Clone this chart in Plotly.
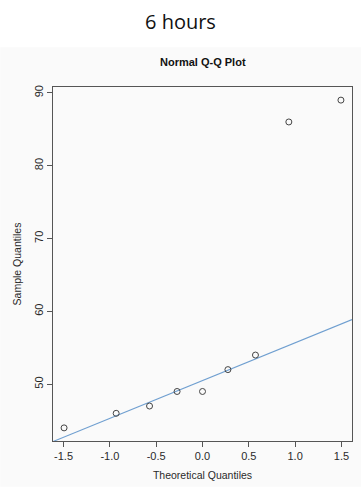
import numpy as np
import plotly.graph_objects as go
from statistics import NormalDist

# Sorted sample values (6 hours)
sample = [44, 46, 47, 49, 49, 52, 54, 86, 89]
x_ticks = [-1.5, -1.0, -0.5, 0.0, 0.5, 1.0, 1.5]
y_ticks = [50, 60, 70, 80, 90]

n = len(sample)
nd = NormalDist()
a = 3 / 8 if n <= 10 else 0.5
theo = [nd.inv_cdf((i - a) / (n + 1 - 2 * a)) for i in range(1, n + 1)]

# Reference line through the first and third quartiles
q1, q3 = np.quantile(sample, [0.25, 0.75])
z1, z3 = nd.inv_cdf(0.25), nd.inv_cdf(0.75)
slope = (q3 - q1) / (z3 - z1)
intercept = q1 - slope * z1

def padded(lo, hi):
    d = (hi - lo) * 0.04
    return [lo - d, hi + d]

xr = padded(min(theo), max(theo))
yr = padded(min(sample), max(sample))

W, H = 362, 489
M_L, M_R, M_T, M_B = 53, 9, 87, 46
plot_h = H - M_T - M_B
plot_w = W - M_L - M_R

def y_paper(px):
    return (H - M_B - px) / plot_h

def x_paper(px):
    return (px - M_L) / plot_w

font = "Liberation Sans, Arial, sans-serif"
axis_col = "#555555"

fig = go.Figure()
fig.add_trace(go.Scatter(
    x=xr, y=[intercept + slope * v for v in xr], mode="lines",
    line=dict(color="#6f9fd0", width=1.1), hoverinfo="skip"))
fig.add_trace(go.Scatter(
    x=theo, y=sample, mode="markers",
    marker=dict(symbol="circle-open", size=6, color="#444444",
                line=dict(width=1, color="#444444"))))

fig.update_layout(
    width=W, height=H,
    margin=dict(l=M_L, r=M_R, t=M_T, b=M_B),
    paper_bgcolor="white", plot_bgcolor="rgba(0,0,0,0)",
    showlegend=False,
    font=dict(family=font, size=11, color="#2a2a2a"),
    shapes=[dict(type="rect", xref="paper", yref="paper",
                 x0=x_paper(0), x1=x_paper(W), y0=y_paper(H), y1=y_paper(47),
                 fillcolor="#fafafa", line=dict(width=0), layer="below")],
    annotations=[
        dict(text="6 hours", xref="paper", yref="paper", x=x_paper(181), y=y_paper(21),
             showarrow=False, xanchor="center", yanchor="middle",
             font=dict(family="Open Sans, Lato, sans-serif", size=20, color="#111111")),
        dict(text="<b>Normal Q-Q Plot</b>", xref="paper", yref="paper",
             x=x_paper(203), y=y_paper(62),
             showarrow=False, xanchor="center", yanchor="middle",
             font=dict(family=font, size=11, color="#111111")),
    ],
)

fig.update_xaxes(
    range=xr, tickvals=x_ticks, ticktext=[f"{v:.1f}" for v in x_ticks],
    showgrid=False, zeroline=False, showline=True, mirror=True,
    linecolor=axis_col, linewidth=1, ticks="outside", ticklen=5,
    tickcolor=axis_col, title=dict(text="Theoretical Quantiles", standoff=10,
                                   font=dict(size=10.5)))
fig.update_yaxes(
    range=yr, tickvals=y_ticks, tickangle=-90,
    showgrid=False, zeroline=False, showline=True, mirror=True,
    linecolor=axis_col, linewidth=1, ticks="outside", ticklen=5,
    tickcolor=axis_col, title=dict(text="Sample Quantiles", standoff=8,
                                   font=dict(size=10.5)))

fig.write_html("out.html")
